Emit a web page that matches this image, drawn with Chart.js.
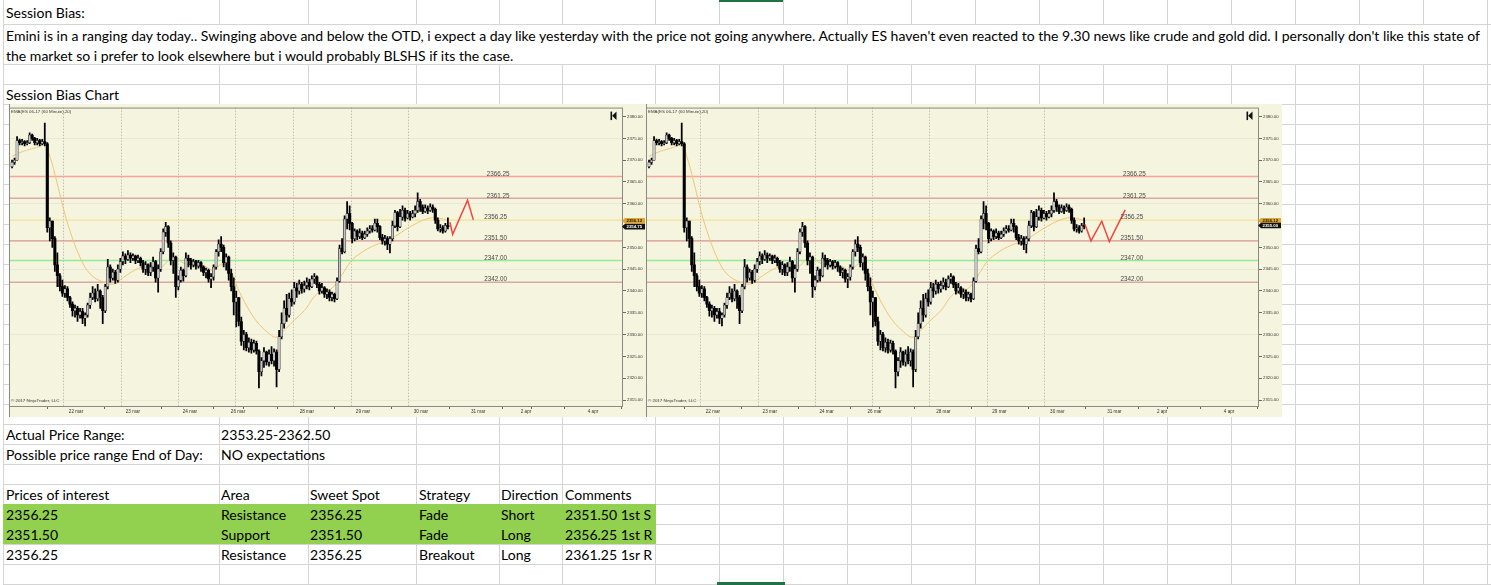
<!DOCTYPE html>
<html>
<head>
<meta charset="utf-8">
<script src="https://cdn.jsdelivr.net/npm/chart.js@4.4.0/dist/chart.umd.min.js"></script>
<style>
  html, body { margin: 0; padding: 0; }
  body { width: 1491px; height: 585px; overflow: hidden; position: relative; background: #fff; font-family: Lato, 'Open Sans', sans-serif; }
  .hl, .vl, .box { position: absolute; }
  .hl { height: 1px; background: #d4d4d4; }
  .vl { width: 1px; background: #d4d4d4; }
  .txt { position: absolute; font-size: 14px; line-height: 20px; height: 20px; white-space: nowrap; color: #000; transform-origin: 0 0; }
  .chart { position: absolute; }
</style>
</head>
<body>
<div id="sheet"></div>
<canvas id="chartA" class="chart" width="637" height="313" style="left:9px;top:104px"></canvas>
<canvas id="chartB" class="chart" width="636" height="313" style="left:646px;top:104px"></canvas>
<script>
// ---- sheet text ----
const LINE1 = "Emini is in a ranging day today.. Swinging above and below the OTD, i expect a day like yesterday with the price not going anywhere. Actually ES haven't even reacted to the 9.30 news like crude and gold did. I personally don't like this state of";
const LINE2 = 'the market so i prefer to look elsewhere but i would probably BLSHS if its the case.';
const TABLE_HEADER = ['Prices of interest', 'Area', 'Sweet Spot', 'Strategy', 'Direction', 'Comments'];
const PRICES = ['2356.25', '2351.50', '2356.25'];
const AREAS = ['Resistance', 'Support', 'Resistance'];
const SWEET_SPOTS = ['2356.25', '2351.50', '2356.25'];
const STRATEGIES = ['Fade', 'Fade', 'Breakout'];
const DIRECTIONS = ['Short', 'Long', 'Long'];
const COMMENTS = ['2351.50 1st S', '2356.25 1st R', '2361.25 1sr R'];

// ---- candles, 60 minute bars ----
const OPEN0 = 2368.5;
const CLOSES = [
  2369.5, 2370.0, 2374.5, 2374.0, 2374.25, 2373.75, 2374.0, 2375.75, 2375.0, 2374.0,
  2374.5, 2373.75, 2374.25, 2373.75, 2354.5, 2356.0, 2352.0, 2346.0, 2343.5, 2341.0,
  2339.5, 2340.5, 2338.5, 2337.0, 2335.5, 2336.0, 2334.5, 2335.25, 2333.75, 2334.5,
  2336.75, 2338.5, 2339.5, 2338.25, 2340.0, 2338.5, 2335.5, 2341.0, 2345.5, 2343.0,
  2344.25, 2342.5, 2345.0, 2346.75, 2348.0, 2347.25, 2348.25, 2347.5, 2348.0, 2347.0,
  2347.5, 2346.5, 2345.0, 2346.0, 2344.25, 2345.5, 2346.75, 2343.0, 2345.0, 2349.0,
  2353.5, 2354.75, 2351.0, 2347.0, 2347.75, 2341.0, 2342.5, 2344.75, 2343.5, 2347.5,
  2347.0, 2346.0, 2346.75, 2345.75, 2346.5, 2345.5, 2344.25, 2344.75, 2342.75, 2343.25,
  2345.5, 2349.0, 2350.75, 2350.0, 2346.5, 2347.75, 2344.0, 2341.0, 2337.5, 2338.5,
  2333.0, 2328.5, 2330.0, 2327.0, 2328.25, 2326.5, 2328.0, 2326.25, 2321.5, 2324.0,
  2326.0, 2323.75, 2325.5, 2324.0, 2326.0, 2322.0, 2329.5, 2332.5, 2336.0, 2334.5,
  2338.25, 2337.5, 2340.75, 2340.0, 2341.5, 2340.5, 2341.25, 2342.0, 2341.0, 2342.75,
  2343.25, 2341.5, 2340.0, 2340.75, 2339.25, 2339.75, 2338.5, 2339.25, 2338.25, 2342.25,
  2349.75, 2349.0, 2356.5, 2357.75, 2355.5, 2352.0, 2353.75, 2352.5, 2353.25, 2352.25,
  2353.0, 2353.75, 2354.25, 2354.0, 2355.5, 2354.75, 2352.25, 2351.5, 2352.0, 2350.75,
  2352.0, 2355.0, 2358.0, 2354.75, 2357.0, 2358.5, 2356.75, 2357.75, 2357.0, 2357.75,
  2358.5, 2360.5, 2359.25, 2358.25, 2359.0, 2358.5, 2359.25, 2358.75, 2356.25, 2354.25,
  2354.5, 2353.75, 2355.0, 2354.75
];
const HIGHS = [
  2370.0, 2370.5, 2375.4, 2374.8, 2374.75, 2374.5, 2374.5, 2376.25, 2376.0, 2375.25,
  2375.0, 2374.75, 2374.75, 2378.5, 2374.0, 2356.75, 2356.0, 2352.5, 2348.75, 2344.0,
  2342.5, 2341.25, 2341.0, 2338.75, 2337.5, 2336.75, 2336.5, 2336.0, 2336.0, 2335.0,
  2337.25, 2339.5, 2341.0, 2340.5, 2341.5, 2340.25, 2339.0, 2341.5, 2347.25, 2346.0,
  2345.0, 2344.75, 2346.0, 2347.5, 2349.0, 2348.5, 2349.25, 2348.75, 2348.5, 2348.25,
  2348.25, 2347.75, 2347.0, 2346.75, 2346.25, 2346.5, 2347.75, 2347.0, 2346.0, 2349.75,
  2354.25, 2355.75, 2355.0, 2351.5, 2348.75, 2348.0, 2343.5, 2345.5, 2345.0, 2348.75,
  2348.25, 2347.5, 2347.25, 2347.0, 2347.0, 2346.75, 2345.75, 2345.25, 2345.0, 2344.0,
  2346.0, 2349.5, 2351.75, 2352.5, 2350.5, 2348.5, 2348.0, 2345.0, 2343.0, 2340.0,
  2338.5, 2334.0, 2331.0, 2330.5, 2329.25, 2329.0, 2328.75, 2328.5, 2326.5, 2324.75,
  2327.0, 2326.25, 2326.5, 2327.25, 2326.75, 2326.5, 2331.0, 2335.0, 2337.75, 2339.25,
  2339.5, 2340.25, 2342.0, 2341.75, 2342.5, 2342.0, 2342.25, 2343.0, 2342.75, 2343.5,
  2344.0, 2343.5, 2342.0, 2341.75, 2341.0, 2340.5, 2340.25, 2339.75, 2339.5, 2343.0,
  2350.5, 2352.0, 2357.25, 2360.5, 2359.5, 2355.75, 2354.25, 2354.0, 2354.25, 2353.75,
  2353.75, 2354.5, 2355.0, 2355.0, 2356.5, 2356.5, 2355.0, 2353.0, 2352.75, 2352.5,
  2352.5, 2356.0, 2358.5, 2358.25, 2358.75, 2359.5, 2359.0, 2358.5, 2358.25, 2358.5,
  2359.5, 2362.5, 2361.0, 2359.75, 2359.75, 2359.5, 2360.0, 2359.75, 2359.0, 2356.75,
  2355.25, 2355.0, 2355.5, 2356.75
];
const LOWS = [
  2368.2, 2369.0, 2370.0, 2373.5, 2373.5, 2373.25, 2373.5, 2373.75, 2374.5, 2373.5,
  2373.5, 2373.25, 2373.5, 2373.25, 2353.5, 2351.5, 2350.0, 2344.5, 2341.0, 2340.0,
  2338.75, 2338.5, 2337.75, 2336.25, 2334.25, 2334.0, 2333.0, 2333.75, 2332.5, 2332.0,
  2334.0, 2336.0, 2338.0, 2337.5, 2337.75, 2336.0, 2332.5, 2335.0, 2340.5, 2342.0,
  2342.5, 2341.75, 2342.0, 2344.25, 2346.0, 2346.25, 2347.0, 2346.5, 2347.0, 2346.25,
  2346.5, 2345.75, 2344.25, 2343.75, 2343.5, 2343.5, 2344.5, 2342.0, 2339.75, 2344.5,
  2348.5, 2352.5, 2350.0, 2346.0, 2344.0, 2338.5, 2340.25, 2342.0, 2342.25, 2343.25,
  2345.5, 2345.0, 2345.5, 2345.0, 2345.25, 2344.5, 2343.5, 2343.0, 2342.0, 2340.75,
  2342.5, 2345.0, 2348.0, 2349.0, 2345.5, 2344.75, 2342.5, 2340.0, 2334.5, 2331.75,
  2332.0, 2327.5, 2326.5, 2326.25, 2326.0, 2325.75, 2326.0, 2325.5, 2317.75, 2320.5,
  2322.5, 2323.0, 2322.75, 2323.25, 2322.75, 2318.0, 2321.5, 2329.0, 2331.5, 2333.0,
  2334.0, 2336.5, 2337.0, 2338.5, 2339.25, 2339.5, 2339.75, 2340.5, 2340.25, 2340.75,
  2341.75, 2340.75, 2339.25, 2339.5, 2338.5, 2338.25, 2337.75, 2337.75, 2337.5, 2338.0,
  2342.0, 2348.5, 2348.75, 2354.25, 2354.0, 2351.0, 2351.5, 2351.75, 2352.0, 2351.75,
  2352.0, 2352.5, 2353.25, 2353.5, 2353.75, 2353.5, 2351.75, 2350.75, 2350.5, 2349.5,
  2348.75, 2351.5, 2354.5, 2353.75, 2354.5, 2356.25, 2356.0, 2356.5, 2356.25, 2356.75,
  2357.0, 2358.0, 2358.25, 2357.75, 2358.0, 2357.75, 2358.25, 2358.0, 2355.5, 2353.75,
  2353.5, 2353.25, 2353.5, 2354.25
];

// EMA(20): [bar, price]
const EMA_POINTS = [
  [0, 2370.9], [4.4, 2372.0], [9.7, 2372.9], [13, 2373.5], [15, 2370.9], [17.7, 2365.2],
  [20.3, 2359.1], [23, 2353.8], [27, 2347.7], [31, 2343.9], [36.3, 2342.0], [40.2, 2341.6],
  [44.2, 2343.1], [49.5, 2345.0], [54.8, 2345.8], [58.8, 2345.4], [64.1, 2347.7], [68.8, 2346.2],
  [76, 2345.8], [80, 2344.7], [83.4, 2346.2], [86.7, 2344.7], [89.4, 2340.9], [93.4, 2336.3],
  [97.3, 2332.9], [101.3, 2330.6], [104.6, 2329.4], [107.3, 2330.6], [112, 2333.3], [116, 2335.5],
  [121.4, 2339.5], [126.7, 2340.5], [130.7, 2343.5], [134.7, 2346.9], [138.7, 2348.8], [144, 2350.5],
  [149.3, 2351.5], [153.3, 2353.0], [158.6, 2354.9], [164, 2356.4], [168, 2356.8], [173.5, 2356.1]
];
const EMA_LAST = 2356.12;
const LAST_PRICE_A = 2354.75;
const LAST_PRICE_B = 2355.00;

// drawn projections: [bar, price]
const PROJECTION_A = [[173.8, 2355.75], [174.9, 2353.0], [180.8, 2360.8], [183.1, 2356.3]];
const PROJECTION_B = [[173.3, 2355.3], [175.7, 2351.5], [180.0, 2356.0], [183.0, 2351.3], [189.3, 2358.6]];

const LEVELS = [2366.25, 2361.25, 2356.25, 2351.50, 2347.00, 2342.00];
const LEVEL_COLORS = ['#f6a49c', '#d9aaa2', '#f3e294', '#d7958e', '#93ec93', '#d9aaa2'];

const Y_TICKS = [2380, 2375, 2370, 2365, 2360, 2355, 2350, 2345, 2340, 2335, 2330, 2325, 2320, 2315];
const Y_GRID = [2375, 2360, 2345, 2330, 2315];
const X_TICK_BARS = [25.4, 48, 70.6, 89.7, 93.7, 117, 139.3, 162.3, 185, 204, 208, 230.6];
const X_TICK_LABELS = ['22 mar', '23 mar', '24 mar', '26 mar', '', '28 mar', '29 mar', '30 mar', '31 mar', '2 apr', '', '4 apr'];
const SESSION_BREAKS = [20.2, 43.3, 65.9, 88.5, 111.5, 134.5, 157.1];

const X_MIN = -1.2, X_MAX = 242.5;
const Y_MIN = 2313.63, Y_MAX = 2382.05;
const LEVEL_LABEL_BAR = 188;
const BG = '#f5f4de';

// ---- sheet ----
const sheet = document.getElementById('sheet');
function addBox(cls, style) {
  const d = document.createElement('div');
  d.className = cls;
  Object.assign(d.style, style);
  sheet.appendChild(d);
  return d;
}
const COL_X = [3, 219, 308, 416, 499, 562, 655];
for (let x = 719; x <= 1491; x += 64) COL_X.push(x);
const ROW_Y = [24, 64, 84];
for (let y = 104; y <= 584; y += 20) ROW_Y.push(y);

COL_X.forEach(x => addBox('vl', { left: x + 'px', top: '0px', height: '585px' }));
ROW_Y.forEach(y => addBox('hl', { left: '3px', top: y + 'px', width: '1488px' }));
// overflowing paragraph hides the column lines of its row
addBox('box', { left: '4px', top: '25px', width: '1482px', height: '39px', background: '#fff' });
// green rows
addBox('box', { left: '3px', top: '504px', width: '653px', height: '40px', background: '#92d050' });
// selected cell marks
addBox('box', { left: '719px', top: '0px', width: '64px', height: '2px', background: '#217346' });
addBox('box', { left: '717px', top: '582px', width: '68px', height: '3px', background: '#217346' });

const texts = [];
function addText(x, y, s) {
  const d = addBox('txt', { left: x + 'px', top: (y + 1) + 'px' });
  d.textContent = s;
  texts.push(d);
}
const TX = [6, 221, 310, 419, 501, 565];
addText(6, 2, 'Session Bias:');
addText(6, 25, LINE1);
addText(6, 45, LINE2);
addText(6, 84, 'Session Bias Chart');
addText(6, 424, 'Actual Price Range:');
addText(TX[1], 424, '2353.25-2362.50');
addText(6, 444, 'Possible price range End of Day:');
addText(TX[1], 444, 'NO expectations');
TABLE_HEADER.forEach((h, i) => addText(TX[i], 484, h));
PRICES.forEach((p, r) => {
  const y = 504 + r * 20;
  [p, AREAS[r], SWEET_SPOTS[r], STRATEGIES[r], DIRECTIONS[r], COMMENTS[r]].forEach((s, i) => addText(TX[i], y, s));
});
// fit the Calibri-like width using the long paragraph line
const mctx = document.createElement('canvas').getContext('2d');
mctx.font = '14px Lato';
const k = 1477 / mctx.measureText(LINE1).width;
texts.forEach(d => { d.style.transform = 'scaleX(' + k.toFixed(4) + ')'; });

// ---- charts ----
const ninjaPlugin = {
  id: 'ninja',
  beforeDraw(chart) {
    const { ctx, width, height } = chart;
    ctx.save();
    ctx.fillStyle = BG;
    ctx.fillRect(0, 0, width, height);
    ctx.restore();
  },
  beforeDatasetsDraw(chart) {
    const { ctx, chartArea: a, scales: { x } } = chart;
    ctx.save();
    ctx.strokeStyle = '#c2c1b2';
    ctx.lineWidth = 1;
    ctx.setLineDash([1.5, 1.5]);
    SESSION_BREAKS.forEach(b => {
      const px = Math.round(x.getPixelForValue(b)) + 0.5;
      ctx.beginPath();
      ctx.moveTo(px, a.top);
      ctx.lineTo(px, a.bottom);
      ctx.stroke();
    });
    ctx.restore();
  },
  afterDatasetsDraw(chart) {
    const { ctx, scales: { x, y } } = chart;
    ctx.save();
    ctx.font = '6.3px Arial';
    ctx.fillStyle = '#4a4a4a';
    ctx.textBaseline = 'alphabetic';
    LEVELS.forEach((lv, i) => {
      const px = x.getPixelForValue(LEVEL_LABEL_BAR) + (i < 2 ? 1 : -1.5);
      ctx.fillText(lv.toFixed(2), px, y.getPixelForValue(lv) - 0.8);
    });
    ctx.restore();
  },
  afterDraw(chart, args, opts) {
    const { ctx, chartArea: a, scales: { y }, height } = chart;
    ctx.save();
    // frame
    ctx.strokeStyle = '#8a8a84';
    ctx.lineWidth = 1;
    ctx.strokeRect(a.left + 0.5, a.top + 0.5, a.right - a.left - 1, a.bottom - a.top);
    ctx.beginPath();
    ctx.moveTo(0.5, 0);
    ctx.lineTo(0.5, height);
    ctx.stroke();
    // texts
    ctx.fillStyle = '#3a3a3a';
    ctx.font = '4.4px Arial';
    ctx.textBaseline = 'middle';
    ctx.fillText('EMA(ES 06-17 (60 Minute),20)', a.left + 2, a.top + 4.5);
    ctx.fillText('\u00a9 2017 NinjaTrader, LLC', a.left + 2, a.bottom - 5.5);
    // scroll-to-end icon
    ctx.fillStyle = '#111';
    const ix = a.right - 12.5, iy = a.top + 4;
    ctx.fillRect(ix, iy, 1.6, 8.5);
    ctx.beginPath();
    ctx.moveTo(ix + 6, iy);
    ctx.lineTo(ix + 6, iy + 8.5);
    ctx.lineTo(ix + 1.6, iy + 4.25);
    ctx.closePath();
    ctx.fill();
    // price tags
    const tags = [
      { v: EMA_LAST, bg: '#e2a62a', fg: '#1a1a1a' },
      { v: opts.last, bg: '#121212', fg: '#ffffff' }
    ];
    tags.forEach(t => {
      const py = y.getPixelForValue(t.v);
      const x0 = a.right - 1;
      ctx.beginPath();
      ctx.moveTo(x0, py);
      ctx.lineTo(x0 + 3, py - 2.8);
      ctx.lineTo(x0 + 23, py - 2.8);
      ctx.lineTo(x0 + 23, py + 2.8);
      ctx.lineTo(x0 + 3, py + 2.8);
      ctx.closePath();
      ctx.fillStyle = t.bg;
      ctx.fill();
      ctx.fillStyle = t.fg;
      ctx.font = 'bold 4.3px Arial';
      ctx.textBaseline = 'middle';
      ctx.fillText(t.v.toFixed(2), x0 + 4.5, py + 0.2);
    });
    ctx.restore();
  }
};

function buildChart(id, lastPrice, projection) {
  const opens = CLOSES.map((c, i) => (i === 0 ? OPEN0 : CLOSES[i - 1]));
  const bodies = CLOSES.map((c, i) => ({ x: i, y: [opens[i], c] }));
  const wicks = CLOSES.map((c, i) => ({
    x: i,
    y: [Math.min(LOWS[i], opens[i], c), Math.max(HIGHS[i], opens[i], c)]
  }));
  const up = CLOSES.map((c, i) => c >= opens[i]);

  const levelSets = LEVELS.map((lv, i) => ({
    type: 'line',
    data: [{ x: X_MIN, y: lv }, { x: X_MAX, y: lv }],
    borderColor: LEVEL_COLORS[i],
    borderWidth: i === 0 || i === 4 ? 1.6 : 1.4,
    pointRadius: 0,
    order: 6
  }));

  return new Chart(document.getElementById(id), {
    type: 'bar',
    data: {
      datasets: [
        ...levelSets,
        {
          type: 'line',
          data: EMA_POINTS.map(p => ({ x: p[0], y: p[1] })),
          borderColor: '#f0c677',
          borderWidth: 1,
          tension: 0.4,
          pointRadius: 0,
          order: 4
        },
        {
          data: wicks,
          backgroundColor: '#000',
          barThickness: 1.1,
          grouped: false,
          order: 2
        },
        {
          data: bodies,
          backgroundColor: up.map(u => (u ? '#c6c6c6' : '#000')),
          borderColor: '#111',
          borderWidth: up.map(u => (u ? 0.5 : 0)),
          borderSkipped: false,
          barThickness: 2.4,
          minBarLength: 1,
          grouped: false,
          order: 1
        },
        {
          type: 'line',
          data: projection.map(p => ({ x: p[0], y: p[1] })),
          borderColor: '#f2453f',
          borderWidth: 1.5,
          pointRadius: 0,
          tension: 0,
          order: 0
        }
      ]
    },
    options: {
      responsive: false,
      animation: false,
      events: [],
      layout: { padding: { top: 2, left: 0, right: 0, bottom: 0 } },
      plugins: { legend: { display: false }, tooltip: { enabled: false }, ninja: { last: lastPrice } },
      scales: {
        x: {
          type: 'linear',
          min: X_MIN,
          max: X_MAX,
          offset: false,
          border: { display: false },
          grid: { drawOnChartArea: false, drawTicks: true, tickLength: 3, tickColor: '#6a6a6a', color: '#6a6a6a' },
          ticks: {
            autoSkip: false,
            maxRotation: 0,
            padding: 0,
            color: '#333',
            font: { size: 4.6, family: 'Arial' },
            callback: (v, i) => X_TICK_LABELS[i]
          },
          afterBuildTicks: s => { s.ticks = X_TICK_BARS.map(v => ({ value: v })); },
          afterFit: s => { s.height = 11; }
        },
        y: {
          type: 'linear',
          position: 'right',
          min: Y_MIN,
          max: Y_MAX,
          border: { display: false },
          grid: {
            color: c => (c.tick && Y_GRID.includes(c.tick.value) ? '#e9e8d5' : 'rgba(0,0,0,0)'),
            tickColor: '#6a6a6a',
            tickLength: 3,
            lineWidth: 1
          },
          ticks: {
            padding: 1,
            color: '#333',
            font: { size: 4.3, family: 'Arial' },
            callback: v => v.toFixed(2)
          },
          afterBuildTicks: s => { s.ticks = Y_TICKS.map(v => ({ value: v })); },
          afterFit: s => { s.width = 23; }
        }
      }
    },
    plugins: [ninjaPlugin]
  });
}

buildChart('chartA', LAST_PRICE_A, PROJECTION_A);
buildChart('chartB', LAST_PRICE_B, PROJECTION_B);
</script>
</body>
</html>
